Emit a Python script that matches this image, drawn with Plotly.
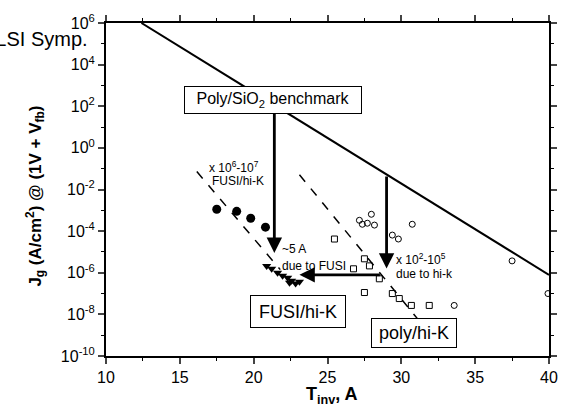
import plotly.graph_objects as go

# Poly/SiO2 benchmark trend (Tinv in A, log10 Jg)
bench_t = [12.4, 40.0]
bench_logj = [6.0, -6.1]

# Guide lines through the data clusters (log10 Jg)
guide1_t = [16.15, 21.8]
guide1_logj = [-1.14, -5.85]
guide2_t = [23.1, 31.35]
guide2_logj = [-1.29, -8.43]

# FUSI/hi-K: filled circles
fusi_c_t = [17.5, 18.85, 19.8, 20.8]
fusi_c_logj = [-2.95, -3.05, -3.38, -3.81]

# FUSI/hi-K: filled triangles
fusi_t_t = [20.88, 21.22, 21.62, 21.96, 22.3, 22.57, 22.84, 23.1, 22.43]
fusi_t_logj = [-5.67, -5.81, -6.0, -6.14, -6.24, -6.38, -6.52, -6.43, -6.48]

# poly/hi-K: open circles
poly_c_t = [27.97, 27.16, 27.7, 28.18, 27.36, 29.39, 29.8, 30.74, 37.5, 39.93, 33.58]
poly_c_logj = [-3.19, -3.48, -3.62, -3.71, -3.67, -4.19, -4.38, -3.67, -5.43, -7.0, -7.57]

# poly/hi-K: open squares
poly_s_t = [25.47, 27.5, 27.84, 26.76, 28.51, 27.5, 29.39, 29.86, 30.68, 31.89]
poly_s_logj = [-4.38, -5.33, -5.67, -5.81, -6.29, -6.95, -7.0, -7.24, -7.57, -7.57]

# Axis ticks
x_ticks = [10, 15, 20, 25, 30, 35, 40]
y_exps = [-10, -8, -6, -4, -2, 0, 2, 4, 6]
y_minor_exps = [-9, -7, -5, -3, -1, 1, 3, 5]


def p10(vals):
    return [10 ** v for v in vals]


fig = go.Figure()

fig.add_trace(go.Scatter(x=bench_t, y=p10(bench_logj), mode="lines",
                         line=dict(color="black", width=2)))
fig.add_trace(go.Scatter(x=guide1_t, y=p10(guide1_logj), mode="lines",
                         line=dict(color="black", width=1.5, dash="dash")))
fig.add_trace(go.Scatter(x=guide2_t, y=p10(guide2_logj), mode="lines",
                         line=dict(color="black", width=1.5, dash="dash")))
fig.add_trace(go.Scatter(x=fusi_c_t, y=p10(fusi_c_logj), mode="markers",
                         marker=dict(symbol="circle", size=9, color="black")))
fig.add_trace(go.Scatter(x=fusi_t_t, y=p10(fusi_t_logj), mode="markers",
                         marker=dict(symbol="triangle-down", size=8, color="black")))
fig.add_trace(go.Scatter(x=poly_c_t, y=p10(poly_c_logj), mode="markers",
                         marker=dict(symbol="circle-open", size=6, color="black",
                                     line=dict(width=1))))
fig.add_trace(go.Scatter(x=poly_s_t, y=p10(poly_s_logj), mode="markers",
                         marker=dict(symbol="square-open", size=6, color="black",
                                     line=dict(width=1))))

font_fam = "Liberation Sans, Arial, sans-serif"

# Arrows: (tip_t, tip_logj, tail_t, tail_logj)
arrows = [
    (21.4, -5.05, 21.4, 2.0),
    (29.0, -5.8, 29.0, -1.3),
    (23.1, -6.1, 28.65, -6.1),
]
annotations = []
for tx, ty, sx, sy in arrows:
    annotations.append(dict(x=tx, y=ty, ax=sx, ay=sy, xref="x", yref="y",
                            axref="x", ayref="y", showarrow=True, arrowhead=2,
                            arrowsize=1.1, arrowwidth=2.8, arrowcolor="black",
                            text=""))

small = dict(family=font_fam, size=12, color="black")
for txt, tx, ty in [
    ("x 10<sup>6</sup>-10<sup>7</sup>", 16.82, -0.9),
    ("FUSI/hi-K", 17.03, -1.57),
    ("~5 A", 21.76, -4.86),
    ("due to FUSI", 21.76, -5.67),
    ("x 10<sup>2</sup>-10<sup>5</sup>", 29.53, -5.33),
    ("due to hi-k", 29.53, -6.05),
]:
    annotations.append(dict(x=tx, y=ty, xref="x", yref="y", text=txt,
                            showarrow=False, xanchor="left", yanchor="middle",
                            font=small))

for txt, tx, ty, fs, w, h in [
    ("Poly/SiO<sub>2</sub> benchmark", 21.28, 2.29, 16, 172, 22),
    ("FUSI/hi-K", 23.0, -7.88, 18, 90, 27),
    ("poly/hi-K", 30.88, -8.9, 18, 80, 24),
]:
    annotations.append(dict(x=tx, y=ty, xref="x", yref="y", text=txt,
                            showarrow=False, font=dict(family=font_fam, size=fs, color="black"),
                            bgcolor="white", bordercolor="black", borderwidth=1,
                            borderpad=2, width=w, height=h))

annotations.append(dict(x=90, y=36, xref="paper", yref="paper", text="VLSI Symp.",
                        showarrow=False, xanchor="right", yanchor="middle",
                        font=dict(family=font_fam, size=20, color="black")))
annotations.append(dict(x=333, y=396, text="<b>T<sub>inv</sub>, A</b>",
                        showarrow=False, xanchor="center", yanchor="middle",
                        font=dict(family=font_fam, size=18, color="black")))
annotations.append(dict(x=35, y=195, text="<b>J<sub>g</sub> (A/cm<sup>2</sup>) @ (1V + V<sub>fb</sub>)</b>",
                        showarrow=False, xanchor="center", yanchor="middle", textangle=-90,
                        font=dict(family=font_fam, size=17, color="black")))

# Convert pixel-placed labels (paper annotations given in px) to paper fractions
W, H = 570, 405
L, R, T, B = 106, 20, 20, 49
pw, ph = W - L - R, H - T - B
for a in annotations:
    if a.get("xref") == "paper" or "xref" not in a:
        a["xref"] = "paper"
        a["yref"] = "paper"
        a["x"] = (a["x"] - L) / pw
        a["y"] = (H - B - a["y"]) / ph

fig.update_layout(
    width=W, height=H,
    margin=dict(l=L, r=R, t=T, b=B),
    paper_bgcolor="white", plot_bgcolor="white",
    showlegend=False,
    font=dict(family=font_fam, size=16, color="black"),
    annotations=annotations,
)
fig.update_xaxes(range=[10, 40], tickvals=x_ticks, ticks="outside", ticklen=6,
                 tickwidth=1.5, showline=True, linecolor="black", linewidth=2,
                 mirror="ticks", showgrid=False, zeroline=False,
                 minor=dict(dtick=2.5, ticks="outside", ticklen=3, tickwidth=1.2,
                            tickcolor="black"),
                 tickfont=dict(size=16))
fig.update_yaxes(type="log", range=[-10, 6], tickvals=p10(y_exps),
                 ticktext=[f"10<sup>{e}</sup>" for e in y_exps],
                 ticks="outside", ticklen=6, tickwidth=1.5, showline=True,
                 linecolor="black", linewidth=2, mirror="ticks", showgrid=False,
                 zeroline=False,
                 minor=dict(tickvals=p10(y_minor_exps), ticks="outside", ticklen=3,
                            tickwidth=1.2, tickcolor="black"),
                 tickfont=dict(size=16))

fig.write_html("out.html")
